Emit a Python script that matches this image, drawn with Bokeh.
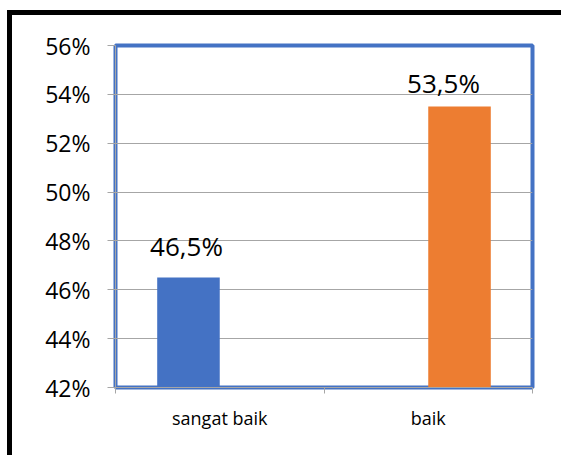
from bokeh.plotting import figure
from bokeh.models import Range1d, FixedTicker, PrintfTickFormatter, ColumnDataSource
from bokeh.embed import file_html
from bokeh.resources import INLINE
from bokeh.core.properties import value

# ---- data ----
categories = ["sangat baik", "baik"]
values = [46.5, 53.5]
value_labels = ["46,5%", "53,5%"]
bar_colors = ["#4472C4", "#ED7D31"]
y_ticks = [42, 44, 46, 48, 50, 52, 54, 56]

# ---- styles ----
FONT = "Open Sans"
GRAY = "#a6a6a6"
BAR_W = 0.3
label_x_offsets = [-2, -16]
label_y_offsets = [-32, -24]

p = figure(width=561, height=455, output_backend="svg", toolbar_location=None,
           x_range=Range1d(0, len(categories)), y_range=Range1d(y_ticks[0], y_ticks[-1]),
           min_border_left=115, min_border_right=29, min_border_top=45, min_border_bottom=68)

# outer black frame (only left and top edges visible in the reference)
p.styles = {
    "background": ("linear-gradient(#000,#000) 7px 10px / 5px calc(100% - 10px) no-repeat, "
                   "linear-gradient(#000,#000) 7px 10px / calc(100% - 7px) 5px no-repeat, #fff"),
}

n = len(categories)
for i, (cat, v, col, lab) in enumerate(zip(categories, values, bar_colors, value_labels)):
    # clustered layout: series i sits in its own slot within category i
    xpos = i + 0.5 + (i - (n - 1) / 2) * BAR_W
    src = ColumnDataSource(dict(x=[xpos], top=[v], label=[lab]))
    p.vbar(x="x", top="top", bottom=y_ticks[0], width=BAR_W, source=src,
           fill_color=col, line_color=None)
    p.text(x="x", y="top", text="label", source=src,
           text_font=value(FONT), text_font_size="26px", text_color="#000000",
           text_align="center", text_baseline="alphabetic",
           x_offset=label_x_offsets[i], y_offset=label_y_offsets[i])

# y axis
p.yaxis.ticker = FixedTicker(ticks=y_ticks)
p.yaxis.formatter = PrintfTickFormatter(format="%d%%")
p.yaxis.major_label_text_font = FONT
p.yaxis.major_label_text_font_size = "23px"
p.yaxis.major_label_text_color = "#000000"
p.yaxis.major_tick_out = 8
p.yaxis.major_tick_in = 0
p.yaxis.major_tick_line_color = GRAY
p.yaxis.minor_tick_line_color = None
p.yaxis.axis_line_color = GRAY
p.yaxis.major_label_standoff = 17

# x axis: labels at category centres, tick marks at category boundaries
p.xaxis.ticker = FixedTicker(ticks=[i + 0.5 for i in range(n)], minor_ticks=list(range(n + 1)))
p.xaxis.major_label_overrides = {i + 0.5: c for i, c in enumerate(categories)}
p.xaxis.major_label_text_font = FONT
p.xaxis.major_label_text_font_size = "18px"
p.xaxis.major_label_text_color = "#000000"
p.xaxis.major_tick_line_color = None
p.xaxis.major_tick_out = 0
p.xaxis.major_tick_in = 0
p.xaxis.minor_tick_out = 6
p.xaxis.minor_tick_in = 0
p.xaxis.minor_tick_line_color = GRAY
p.xaxis.axis_line_color = GRAY
p.xaxis.major_label_standoff = 12

p.xgrid.grid_line_color = None
p.ygrid.grid_line_color = GRAY
p.ygrid.grid_line_width = 1

p.outline_line_color = "#4472C4"
p.outline_line_width = 4
p.background_fill_color = "white"
p.border_fill_color = None

open("out.html", "w").write(file_html(p, INLINE))
